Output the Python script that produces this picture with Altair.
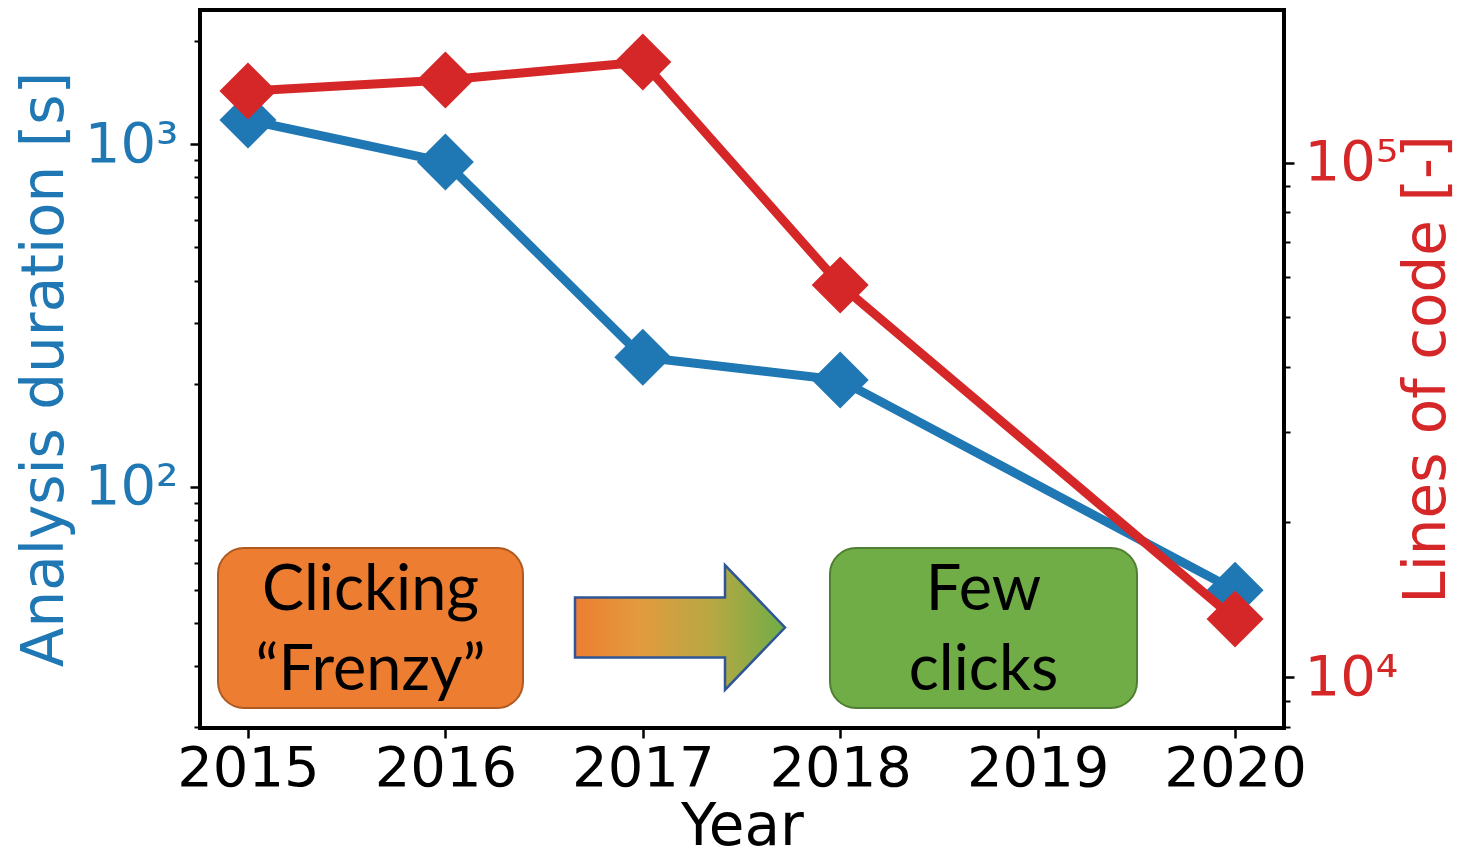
import altair as alt
import pandas as pd

# ---- data ----
years = [2015, 2016, 2017, 2018, 2020]
duration_s = [1175, 886, 239, 205, 50]
lines_of_code = [137800, 144800, 156900, 57850, 12960]

dur_ticks = [20, 30, 40, 50, 60, 70, 80, 90, 100, 200, 300, 400, 500, 600, 700, 800, 900, 1000, 2000]
loc_ticks = [8000, 9000, 10000, 20000, 30000, 40000, 50000, 60000, 70000, 80000, 90000, 100000]
year_ticks = [2015, 2016, 2017, 2018, 2019, 2020]

box_labels = ["Clicking\n\u201cFrenzy\u201d", "Few\nclicks"]

BLUE = "#1f77b4"
RED = "#d62728"
FONT = "DejaVu Sans"

df = pd.DataFrame({"year": years, "dur": duration_s, "loc": lines_of_code})

W, H = 1084, 718

x_enc = alt.X(
    "year:Q",
    scale=alt.Scale(domain=[2014.757, 2020.248], nice=False, zero=False),
    axis=alt.Axis(
        values=year_ticks, format="d", title="Year", grid=False, domain=False,
        tickSize=10, tickWidth=2.5, tickColor="black",
        labelFontSize=56, labelFont=FONT, labelColor="black", labelPadding=3,
        titleFontSize=58, titleFont=FONT, titleColor="black", titleFontWeight="normal",
        titleBaseline="alphabetic", titleY=116, labelOverlap=False, labelFlush=False,
    ),
)

major_dur = "datum.value == 100 || datum.value == 1000"
major_loc = "datum.value == 10000 || datum.value == 100000"

y_dur = alt.Y(
    "dur:Q",
    scale=alt.Scale(type="log", domain=[19.83, 2459], nice=False),
    axis=alt.Axis(
        orient="left", values=dur_ticks, grid=False, domain=False,
        title="Analysis duration [s]",
        labelExpr="datum.value == 100 ? '10\u00b2' : datum.value == 1000 ? '10\u00b3' : ''",
        tickSize={"condition": {"test": major_dur, "value": 10}, "value": 6},
        tickWidth={"condition": {"test": major_dur, "value": 2.5}, "value": 2},
        tickColor="black",
        labelFontSize=56, labelFont=FONT, labelColor=BLUE, labelPadding=12,
        labelOverlap=False, labelFlush=False,
        titleFontSize=58, titleFont=FONT, titleColor=BLUE, titleFontWeight="normal",
        titleAngle=270, titleBaseline="alphabetic", titleX=-138,
    ),
)

y_loc = alt.Y(
    "loc:Q",
    scale=alt.Scale(type="log", domain=[7960, 198000], nice=False),
    axis=alt.Axis(
        orient="right", values=loc_ticks, grid=False, domain=False,
        title="Lines of code [-]",
        labelExpr="datum.value == 10000 ? '10\u2074' : datum.value == 100000 ? '10\u2075' : ''",
        tickSize={"condition": {"test": major_loc, "value": 10}, "value": 6},
        tickWidth={"condition": {"test": major_loc, "value": 2.5}, "value": 2},
        tickColor="black",
        labelFontSize=56, labelFont=FONT, labelColor=RED, labelPadding=10,
        labelOverlap=False, labelFlush=False,
        titleFontSize=58, titleFont=FONT, titleColor=RED, titleFontWeight="normal",
        titleAngle=270, titleBaseline="alphabetic", titleX=160,
    ),
)

base = alt.Chart(df)
blue = alt.layer(
    base.mark_line(color=BLUE, strokeWidth=9).encode(x=x_enc, y=y_dur),
    base.mark_point(shape="diamond", size=3250, filled=True, color=BLUE, opacity=1).encode(x=x_enc, y=y_dur),
)
red = alt.layer(
    base.mark_line(color=RED, strokeWidth=9).encode(x=x_enc, y=y_loc),
    base.mark_point(shape="diamond", size=3250, filled=True, color=RED, opacity=1).encode(x=x_enc, y=y_loc),
)

one = alt.Data(values=[{"a": 1}])

orange_box = alt.Chart(one).mark_rect(
    fill="#ED7D31", stroke="#AE5A21", strokeWidth=2, cornerRadius=26
).encode(x=alt.value(18), x2=alt.value(323), y=alt.value(538), y2=alt.value(698))

green_box = alt.Chart(one).mark_rect(
    fill="#70AD47", stroke="#507E32", strokeWidth=2, cornerRadius=26
).encode(x=alt.value(630), x2=alt.value(937), y=alt.value(538), y2=alt.value(698))

arrow_path = "M-1,-0.286L0.4286,-0.286L0.4286,-0.595L1,0L0.4286,0.595L0.4286,0.286L-1,0.286Z"
arrow = alt.Chart(one).mark_point(
    shape=arrow_path, size=44100, filled=True, opacity=1,
    fill={
        "gradient": "linear", "x1": 0, "x2": 1, "y1": 0, "y2": 0,
        "stops": [
            {"offset": 0, "color": "#ED7D31"},
            {"offset": 0.3, "color": "#E39A3E"},
            {"offset": 0.65, "color": "#B8A843"},
            {"offset": 1, "color": "#70AD47"},
        ],
    },
    stroke="#2F5597", strokeWidth=2.5,
).encode(x=alt.value(480), y=alt.value(617.5))

text_orange = alt.Chart(one).mark_text(
    font="Lato", fontSize=63, color="black", lineBreak="\n", lineHeight=80,
    align="center", baseline="alphabetic",
).encode(x=alt.value(170.5), y=alt.value(600), text=alt.value(box_labels[0]))

text_green = alt.Chart(one).mark_text(
    font="Lato", fontSize=63, color="black", lineBreak="\n", lineHeight=80,
    align="center", baseline="alphabetic",
).encode(x=alt.value(783.5), y=alt.value(600), text=alt.value(box_labels[1]))

chart = (
    alt.layer(blue, red, orange_box, green_box, arrow, text_orange, text_green)
    .resolve_scale(y="independent")
    .properties(
        width=W, height=H,
        padding={"left": 192, "top": 2, "right": 174, "bottom": 120},
        autosize=alt.AutoSizeParams(type="none"),
        background="white",
    )
    .configure_view(stroke="black", strokeWidth=4)
)

chart.save("out.html", embed_options={"renderer": "svg", "actions": False})
